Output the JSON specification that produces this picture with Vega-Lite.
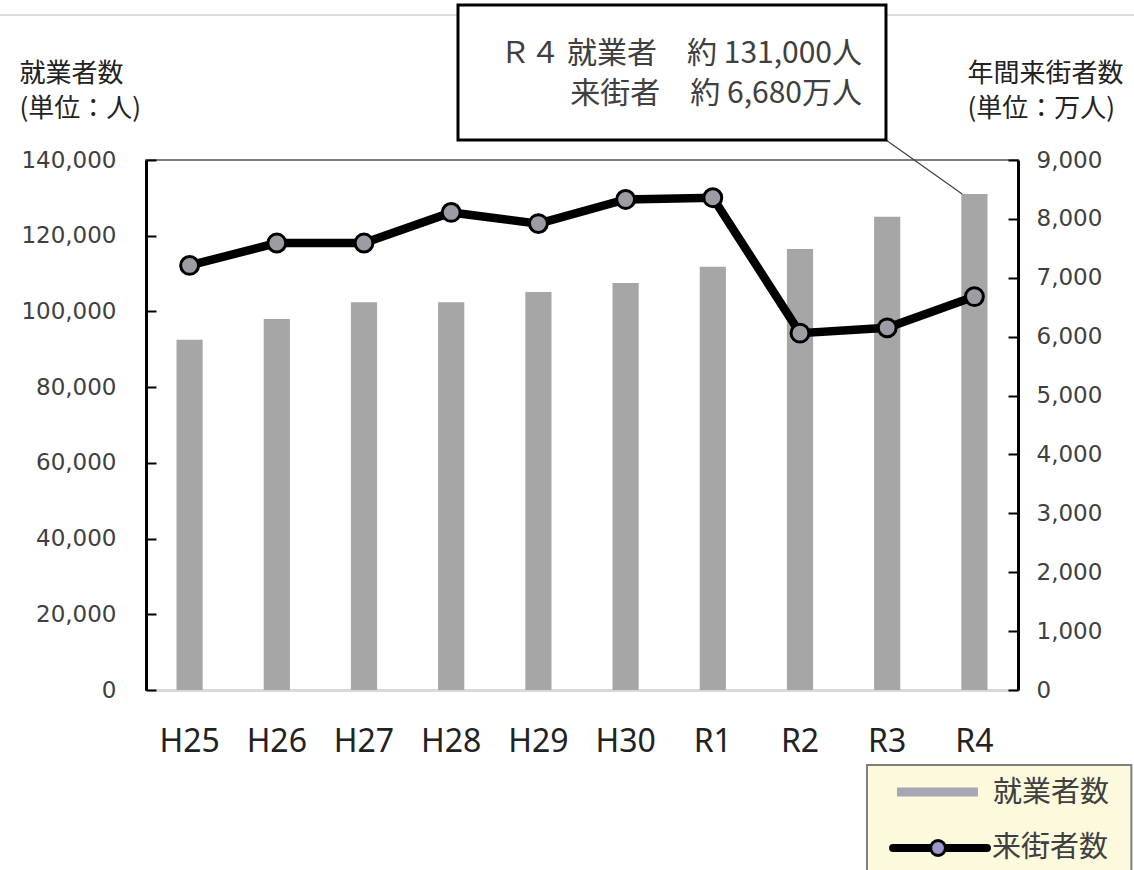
{
  "$schema": "https://vega.github.io/schema/vega-lite/v6.json",
  "width": 872,
  "height": 530,
  "autosize": {"type": "none"},
  "padding": {"left": 146, "top": 160, "right": 116, "bottom": 180},
  "background": "white",
  "config": {
    "view": {"stroke": "#7f7f7f", "strokeWidth": 2},
    "font": "Noto Sans CJK JP"
  },
  "datasets": {
    "main": [
      {"year": "H25", "workers": 92500, "visitors": 7210},
      {"year": "H26", "workers": 98000, "visitors": 7590},
      {"year": "H27", "workers": 102400, "visitors": 7590},
      {"year": "H28", "workers": 102400, "visitors": 8110},
      {"year": "H29", "workers": 105100, "visitors": 7920},
      {"year": "H30", "workers": 107500, "visitors": 8330},
      {"year": "R1", "workers": 111800, "visitors": 8360},
      {"year": "R2", "workers": 116500, "visitors": 6060},
      {"year": "R3", "workers": 125000, "visitors": 6150},
      {"year": "R4", "workers": 131000, "visitors": 6680}
    ],
    "box": [{"x0": 3.578, "x1": 8.486, "y0": 145283, "y1": 180943}],
    "label": [
      {"x": 8.211, "y": 168000, "t": "Ｒ４ 就業者　約 131,000人"},
      {"x": 8.211, "y": 157430, "t": "来街者　約 6,680万人"}
    ],
    "leader": [{"x": 8.486, "y": 145283, "x2": 9.36, "y2": 131000}],
    "topline": [{"x": -1.674, "x2": 11.33, "y": 178300}],
    "legendbox": [{"x0": 8.268, "x1": 11.3, "y0": -48075, "y1": -19811}],
    "legbar": [{"x": 8.612, "x2": 9.541, "y": -26943}],
    "legline": [{"x": 8.567, "x2": 9.644, "y": -41736}],
    "legpt": [{"x": 9.083, "y": -41736}],
    "legtxt": [
      {"x": 9.713, "y": -27207, "t": "就業者数"},
      {"x": 9.702, "y": -41736, "t": "来街者数"}
    ]
  },
  "layer": [
    {
      "data": {"name": "main"},
      "layer": [
        {
          "mark": {"type": "bar", "color": "#a6a6a6"},
          "encoding": {
            "x": {
              "field": "year", "type": "nominal", "sort": null,
              "scale": {"paddingInner": 0.7, "paddingOuter": 0.35},
              "axis": {
                "title": null, "labelAngle": 0, "ticks": false,
                "domainColor": "#d9d9d9", "domainWidth": 3,
                "labelFont": "Noto Sans", "labelFontSize": 32, "labelColor": "#222222",
                "labelPadding": 36
              }
            },
            "y": {
              "field": "workers", "type": "quantitative",
              "scale": {"domain": [0, 140000], "nice": false},
              "axis": {
                "values": [0, 20000, 40000, 60000, 80000, 100000, 120000, 140000],
                "grid": false, "domainColor": "#000000", "domainWidth": 3,
                "tickColor": "#000000", "tickWidth": 2, "tickSize": -10,
                "labelFont": "DejaVu Sans", "labelFontSize": 23, "labelColor": "#404040",
                "labelPadding": 40,
                "title": ["就業者数", "(単位：人)"],
                "titleAngle": 0, "titleAlign": "left", "titleBaseline": "alphabetic",
                "titleX": -127, "titleY": -79, "titleFontSize": 26, "titleFontWeight": "normal",
                "titleLineHeight": 35, "titleColor": "#222222", "titleFont": "Noto Sans CJK JP"
              }
            }
          }
        },
        {
          "layer": [
            {
              "mark": {"type": "line", "color": "#000000", "strokeWidth": 8.5},
              "encoding": {
                "x": {"field": "year", "type": "nominal", "sort": null},
                "y": {
                  "field": "visitors", "type": "quantitative",
                  "scale": {"domain": [0, 9000], "nice": false},
                  "axis": {
                    "orient": "right",
                    "values": [0, 1000, 2000, 3000, 4000, 5000, 6000, 7000, 8000, 9000],
                    "grid": false, "domainColor": "#000000", "domainWidth": 3,
                    "tickColor": "#000000", "tickWidth": 2, "tickSize": -10,
                    "labelFont": "DejaVu Sans", "labelFontSize": 23, "labelColor": "#404040",
                    "labelPadding": 28,
                    "title": ["年間来街者数", "(単位：万人)"],
                    "titleAngle": 0, "titleAlign": "left", "titleBaseline": "alphabetic",
                    "titleX": -51, "titleY": -79, "titleFontSize": 26, "titleFontWeight": "normal",
                    "titleLineHeight": 35, "titleColor": "#222222", "titleFont": "Noto Sans CJK JP"
                  }
                }
              }
            },
            {
              "mark": {"type": "point", "shape": "circle", "filled": true, "fill": "#9c9ca4", "stroke": "#000000", "strokeWidth": 3, "size": 320, "opacity": 1},
              "encoding": {
                "x": {"field": "year", "type": "nominal", "sort": null},
                "y": {"field": "visitors", "type": "quantitative"}
              }
            }
          ]
        }
      ],
      "resolve": {"scale": {"y": "independent"}}
    },
    {
      "layer": [
        {
          "data": {"name": "topline"},
          "mark": {"type": "rule", "color": "#d0d0d0", "strokeWidth": 1.5},
          "encoding": {
            "x": {"field": "x", "type": "quantitative", "scale": {"domain": [0, 10], "nice": false, "zero": false}, "axis": null},
            "x2": {"field": "x2"},
            "y": {"field": "y", "type": "quantitative", "scale": {"domain": [0, 140000], "nice": false}, "axis": null}
          }
        },
        {
          "data": {"name": "leader"},
          "mark": {"type": "rule", "color": "#404040", "strokeWidth": 1.2},
          "encoding": {
            "x": {"field": "x", "type": "quantitative"},
            "x2": {"field": "x2"},
            "y": {"field": "y", "type": "quantitative"},
            "y2": {"field": "y2"}
          }
        },
        {
          "data": {"name": "box"},
          "mark": {"type": "rect", "fill": "#ffffff", "stroke": "#000000", "strokeWidth": 3},
          "encoding": {
            "x": {"field": "x0", "type": "quantitative"},
            "x2": {"field": "x1"},
            "y": {"field": "y0", "type": "quantitative"},
            "y2": {"field": "y1"}
          }
        },
        {
          "data": {"name": "label"},
          "mark": {"type": "text", "align": "right", "baseline": "middle", "fontSize": 30, "color": "#404040", "font": "Noto Sans CJK JP"},
          "encoding": {
            "x": {"field": "x", "type": "quantitative"},
            "y": {"field": "y", "type": "quantitative"},
            "text": {"field": "t"}
          }
        },
        {
          "data": {"name": "legendbox"},
          "mark": {"type": "rect", "fill": "#fdf9dd", "stroke": "#7f7f7f", "strokeWidth": 2},
          "encoding": {
            "x": {"field": "x0", "type": "quantitative"},
            "x2": {"field": "x1"},
            "y": {"field": "y0", "type": "quantitative"},
            "y2": {"field": "y1"}
          }
        },
        {
          "data": {"name": "legbar"},
          "mark": {"type": "rule", "color": "#a8a6b6", "strokeWidth": 9},
          "encoding": {
            "x": {"field": "x", "type": "quantitative"},
            "x2": {"field": "x2"},
            "y": {"field": "y", "type": "quantitative"}
          }
        },
        {
          "data": {"name": "legline"},
          "mark": {"type": "rule", "color": "#000000", "strokeWidth": 8, "strokeCap": "round"},
          "encoding": {
            "x": {"field": "x", "type": "quantitative"},
            "x2": {"field": "x2"},
            "y": {"field": "y", "type": "quantitative"}
          }
        },
        {
          "data": {"name": "legpt"},
          "mark": {"type": "point", "shape": "circle", "filled": true, "fill": "#9a98c8", "stroke": "#000000", "strokeWidth": 3, "size": 220, "opacity": 1},
          "encoding": {
            "x": {"field": "x", "type": "quantitative"},
            "y": {"field": "y", "type": "quantitative"}
          }
        },
        {
          "data": {"name": "legtxt"},
          "mark": {"type": "text", "align": "left", "baseline": "middle", "fontSize": 29, "color": "#404040", "font": "Noto Sans CJK JP"},
          "encoding": {
            "x": {"field": "x", "type": "quantitative"},
            "y": {"field": "y", "type": "quantitative"},
            "text": {"field": "t"}
          }
        }
      ]
    }
  ],
  "resolve": {"scale": {"x": "independent", "y": "independent"}}
}
